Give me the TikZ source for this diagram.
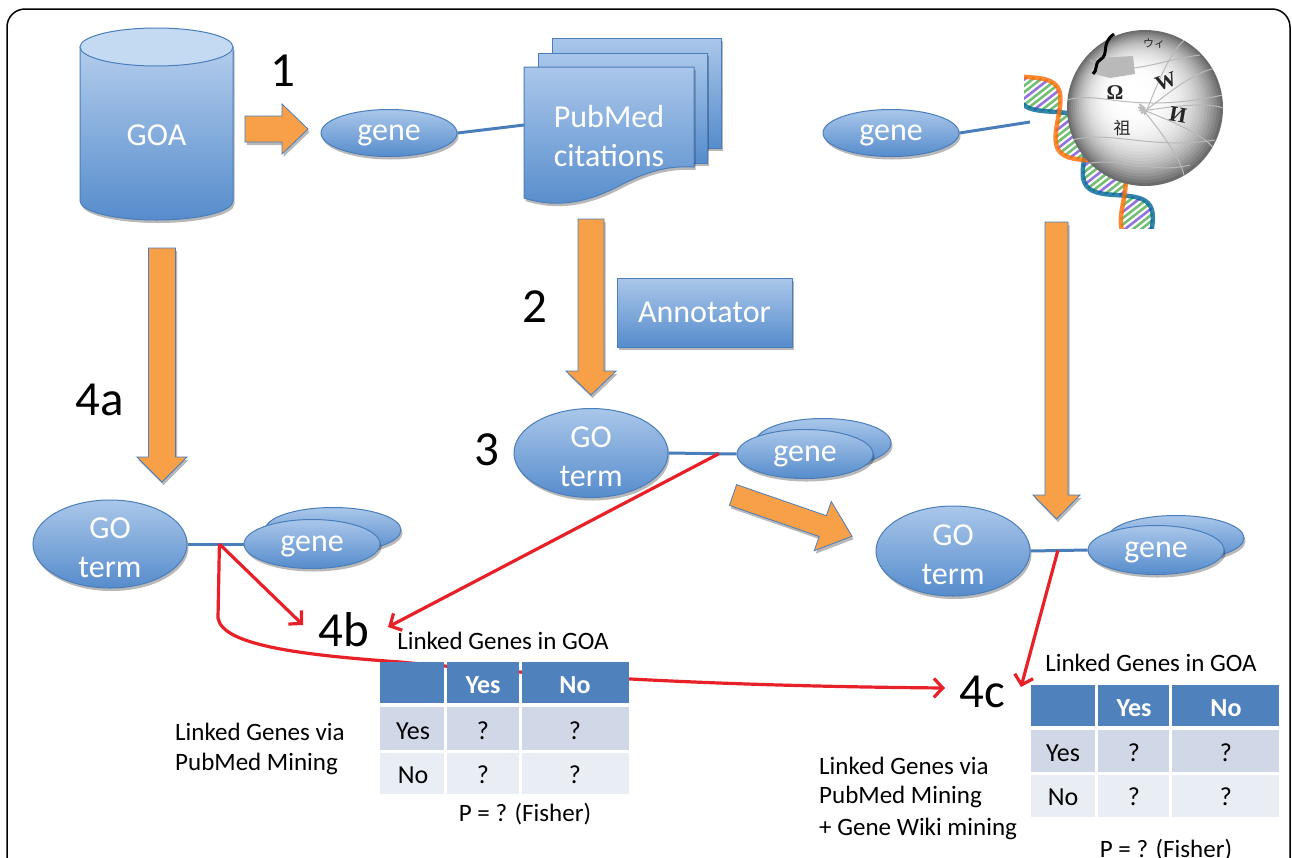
\documentclass[tikz,border=0pt]{standalone}
\usepackage{fontspec}
\setmainfont{Carlito}
\newfontfamily\globeserif{Liberation Serif}
\newfontfamily\globecjk{Noto Sans CJK SC}
\usetikzlibrary{shapes.geometric, arrows.meta, shadows}
\definecolor{bluetop}{RGB}{170,199,234}
\definecolor{bluebot}{RGB}{86,140,204}
\definecolor{bluelight}{RGB}{196,218,242}
\definecolor{blueedge}{RGB}{74,126,187}
\definecolor{orangefill}{RGB}{247,160,72}
\definecolor{redline}{RGB}{232,32,40}
\definecolor{hdr}{RGB}{79,129,189}
\definecolor{rowa}{RGB}{208,216,232}
\definecolor{rowb}{RGB}{233,237,244}
\newcommand\bigfnt{\fontsize{32}{39}\selectfont}
\newcommand\numfnt{\fontsize{49}{52}\selectfont}
\newcommand\smallfnt{\fontsize{25}{30}\selectfont}
\newcommand\cellfnt{\fontsize{26}{30}\selectfont}
\begin{document}
\begin{tikzpicture}[x=1pt,y=-1pt,
  bluefill/.style={top color=bluetop, bottom color=bluebot, draw=blueedge, line width=1pt},
  shadowed/.style={drop shadow={opacity=0.28, shadow xshift=1.5pt, shadow yshift=-3pt, fill=black}},
  ell/.style={ellipse, bluefill, shadowed, inner sep=0pt, text=white, font=\bigfnt, align=center},
  geneell/.style={ell, minimum width=136pt, minimum height=47pt, text depth=0pt},
  goell/.style={ell, minimum width=154pt, minimum height=89pt},
  gotext/.style={text=white, font=\bigfnt, align=center, inner sep=0pt},
  blockarrow/.style={fill=orangefill, draw=blueedge, line width=0.8pt, shadowed},
  conn/.style={draw=blueedge, line width=3pt},
  redarrow/.style={draw=redline, line width=3.2pt, -{Straight Barb[length=9pt,width=19pt]}},
  numlabel/.style={font=\numfnt, inner sep=0pt},
  smalltext/.style={font=\smallfnt, inner sep=0pt},
  hdrtext/.style={font=\cellfnt\bfseries, text=white, inner sep=0pt},
  celltext/.style={font=\cellfnt, inner sep=0pt},
  globelbl/.style={inner sep=0pt, text=black!85},
  puzzle/.style={draw=gray!55, line width=1pt}
]
\path[use as bounding box] (0,0) rectangle (1292,857);
\clip (0,0) rectangle (1292,857);
\fill[white] (0,0) rectangle (1292,857);
\draw[line width=1.5pt, rounded corners=18pt] (7,9) rectangle (1290,920);

% ---------- GOA cylinder
\path[bluefill, shadowed, top color=bluetop!90!white] (80,47) -- (80,201)
  arc[start angle=180, end angle=0, x radius=76.5, y radius=19] -- (233,47) -- cycle;
\draw[blueedge, line width=1pt, fill=bluelight] (156.5,47) ellipse [x radius=76.5, y radius=19];
\node[text=white, font=\bigfnt, inner sep=0pt] (goa) at (156.5,135) {GOA};

% ---------- step 1 arrow
\draw[blockarrow] (245,116) -- (282,116) -- (282,104) -- (308,129) -- (282,154) -- (282,142) -- (245,142) -- cycle;
\node[numlabel] (n1) at (283,71) {1};

% ---------- PubMed stack
\path[bluefill, shadowed] (552,38) rectangle (721,148);
\path[bluefill, shadowed] (538,53) rectangle (707,163);
\path[bluefill, shadowed] (524,67) -- (694,67) -- (694,167)
  .. controls (662,165) and (640,175) .. (615,188)
  .. controls (585,203) and (555,208) .. (524,198) -- cycle;
\node[text=white, font=\bigfnt, align=center, inner sep=0pt] (pubmed) at (609,136) {PubMed\\citations};
\coordinate (pubin) at (524,125);

\node[geneell] (gene1) at (389,133) {gene};
\draw[conn] (gene1.east) -- (pubin);

% ---------- Wikipedia / DNA picture
\begin{scope}
  \clip (1024,70) rectangle (1190,228);
  \begin{scope}[shift={(1020,70)}, rotate=-52]
    \foreach \t [count=\i] in {0,5,...,260} {
      \pgfmathsetmacro\rc{mod(\i,3)==0 ? 1 : 0}
      \ifdim\rc pt>0.5pt
        \draw[blue!55!violet, line width=2.6pt, opacity=0.55] (\t,{19*sin(3.4*\t)}) -- (\t,{19*sin(3.4*\t+150)});
      \else
        \draw[green!55!black, line width=2.6pt, opacity=0.55] (\t,{19*sin(3.4*\t)}) -- (\t,{19*sin(3.4*\t+150)});
      \fi
    }
    \draw[teal!80!blue, line width=4.5pt, opacity=0.8] plot[domain=0:260, samples=100] (\x,{19*sin(3.4*\x)});
    \draw[orange!85!red, line width=4.5pt, opacity=0.8] plot[domain=0:260, samples=100] (\x,{19*sin(3.4*\x+150)});
  \end{scope}
\end{scope}
% globe: banded radial gradient, highlight towards the upper left
\foreach \k in {0,...,29} {
  \pgfmathsetmacro\rr{78*(1-\k/31)}
  \pgfmathsetmacro\gg{58*(1-\k/30)^3.2}
  \pgfmathsetmacro\cx{1145-16*\k/30}
  \pgfmathsetmacro\cy{108-18*\k/30}
  \fill[black!\gg!white] (\cx,\cy) circle (\rr);
}
\begin{scope}
  \clip (1145,108) circle (78);
  \foreach \a in {-60,-30,0,30,60} {
    \draw[puzzle] (1145,108) ++(\a:78) .. controls +(\a+200:30) and +(\a+160:30) .. (1145,108);
  }
  \draw[puzzle] (1067,100) .. controls (1100,90) and (1130,115) .. (1223,95);
  \draw[puzzle] (1072,140) .. controls (1110,130) and (1150,150) .. (1215,140);
  \draw[puzzle] (1090,60) .. controls (1120,80) and (1160,60) .. (1200,55);
  \draw[puzzle] (1080,165) .. controls (1120,155) and (1150,175) .. (1190,165);
  \fill[gray!55] (1097,58) -- (1133,56) -- (1135,74) -- (1110,78) -- (1095,74) -- cycle;
\end{scope}
\draw[black, line width=3pt] (1114,34) .. controls (1100,44) and (1110,54) .. (1100,60) .. controls (1094,64) and (1098,70) .. (1093,74);
\node[globelbl, font=\globeserif\bfseries\fontsize{21}{21}\selectfont] (gOmega) at (1115,93) {Ω};
\node[globelbl, font=\globeserif\bfseries\fontsize{21}{21}\selectfont, rotate=20] (gW) at (1166,82) {W};
\node[globelbl, font=\globeserif\bfseries\fontsize{22}{22}\selectfont, rotate=-10] (gI) at (1178,115) {И};
\node[globelbl, font=\globecjk\fontsize{17}{17}\selectfont] (gZu) at (1122,128) {祖};
\node[globelbl, font=\globecjk\fontsize{11}{11}\selectfont] (gWi) at (1154,44) {ウィ};

\node[geneell] (gene2) at (891,133) {gene};
\coordinate (wikiin) at (1030,122);
\draw[conn] (gene2.east) -- (wikiin);

% ---------- step 2
\draw[blockarrow] (578,219) -- (604,219) -- (604,371) -- (616,371) -- (591,395) -- (566,371) -- (578,371) -- cycle;
\node[numlabel] (n2) at (535,307) {2};
\node[rectangle, bluefill, shadowed, minimum width=175pt, minimum height=69pt, text=white, font=\bigfnt, inner sep=0pt] (annot) at (704.5,312.5) {Annotator};

% ---------- step 4a arrow
\draw[blockarrow] (148.5,248) -- (175.5,248) -- (175.5,457) -- (187,457) -- (162,482) -- (137,457) -- (148.5,457) -- cycle;
\node[numlabel] (n4a) at (100,400) {4a};

% ---------- wiki arrow
\draw[blockarrow] (1045,222) -- (1068,222) -- (1068,495) -- (1080,495) -- (1056.5,519) -- (1033,495) -- (1045,495) -- cycle;

% ---------- diagonal arrow
\draw[blockarrow, shift={(733,495)}, rotate=-19.1] (0,-11) -- (95,-11) -- (95,-26) -- (126,0) -- (95,26) -- (95,11) -- (0,11) -- cycle;

% ---------- step 3 group
\node[numlabel] (n3) at (487,450) {3};
\node[goell] (go3) at (591,453) {};
\node[gotext] (go3t) at (591,457) {GO\\term};
\node[geneell, minimum height=49pt] (gene3b) at (823,443) {};
\node[geneell, minimum height=49pt] (gene3f) at (805,454) {gene};
\draw[conn] (go3.east) -- (gene3f.west);
\path (go3.east) -- (gene3f.west) coordinate[pos=0.74] (j3);

% ---------- left group
\node[goell, minimum height=88pt] (goL) at (110,544) {};
\node[gotext] (goLt) at (110,548) {GO\\term};
\node[geneell, minimum height=45pt] (geneLb) at (333,530) {};
\node[geneell, minimum height=49pt] (geneLf) at (312,544) {gene};
\draw[conn] (goL.east) -- (geneLf.west);
\path (goL.east) -- (geneLf.west) coordinate[pos=0.57] (jL);

% ---------- right group
\node[goell, minimum height=90pt] (goR) at (953,551) {};
\node[gotext] (goRt) at (953,555) {GO\\term};
\node[geneell, minimum height=45pt] (geneRb) at (1176,538) {};
\node[geneell, minimum height=49pt] (geneRf) at (1156,550) {gene};
\draw[conn] (goR.east) -- (geneRf.west);
\path (goR.east) -- (geneRf.west) coordinate[pos=0.48] (jR);

% ---------- labels 4b 4c
\node[numlabel] (n4b) at (344,630) {4b};
\node[numlabel] (n4c) at (982,692) {4c};
\coordinate (t4bL) at (303,625);
\coordinate (t4bR) at (388,627);
\coordinate (t4cL) at (945,688);
\coordinate (t4cR) at (1021,687);

% ---------- red connectors
\draw[redarrow] (jL) -- (t4bL);
\draw[redarrow] (j3) -- (t4bR);
\draw[redarrow] (jL) -- (218,618) .. controls (222,645) and (300,655) .. (400,662)
  .. controls (560,677) and (720,686) .. (t4cL);
\draw[redarrow] (jR) -- (t4cR);

% ---------- table 1
\foreach \a/\b in {380/444,447/519,522/629} {
  \fill[hdr] (\a,662) rectangle (\b,703);
  \fill[rowa] (\a,707) rectangle (\b,750);
  \fill[rowb] (\a,753) rectangle (\b,794);
}
\node[hdrtext] (ta1) at (483,685) {Yes};
\node[hdrtext] (ta2) at (575,685) {No};
\node[celltext] (ta3) at (413,731) {Yes};
\node[celltext] (ta4) at (483,731) {?};
\node[celltext] (ta5) at (575,731) {?};
\node[celltext] (ta6) at (413,775) {No};
\node[celltext] (ta7) at (483,775) {?};
\node[celltext] (ta8) at (575,775) {?};
\node[smalltext] (tatitle) at (503,641) {Linked Genes in GOA};
\node[smalltext, anchor=base west] (taside1) at (175,740) {Linked Genes via};
\node[smalltext, anchor=base west] (taside2) at (175,770) {PubMed Mining};
\node[smalltext, anchor=base] (tap) at (525,821) {P = ? (Fisher)};

% ---------- table 2
\foreach \a/\b in {1031/1095,1098/1169,1172/1279} {
  \fill[hdr] (\a,685) rectangle (\b,726);
  \fill[rowa] (\a,730) rectangle (\b,772);
  \fill[rowb] (\a,775) rectangle (\b,817);
}
\node[hdrtext] (tb1) at (1134,708) {Yes};
\node[hdrtext] (tb2) at (1226,708) {No};
\node[celltext] (tb3) at (1063,753) {Yes};
\node[celltext] (tb4) at (1134,753) {?};
\node[celltext] (tb5) at (1226,753) {?};
\node[celltext] (tb6) at (1063,797) {No};
\node[celltext] (tb7) at (1134,797) {?};
\node[celltext] (tb8) at (1226,797) {?};
\node[smalltext] (tbtitle) at (1151,663) {Linked Genes in GOA};
\node[smalltext, anchor=base west] (tbside1) at (819,774) {Linked Genes via};
\node[smalltext, anchor=base west] (tbside2) at (819,803) {PubMed Mining};
\node[smalltext, anchor=base west] (tbside3) at (819,835) {+ Gene Wiki mining};
\node[smalltext, anchor=base] (tbp) at (1166,857) {P = ? (Fisher)};
\end{tikzpicture}
\end{document}
